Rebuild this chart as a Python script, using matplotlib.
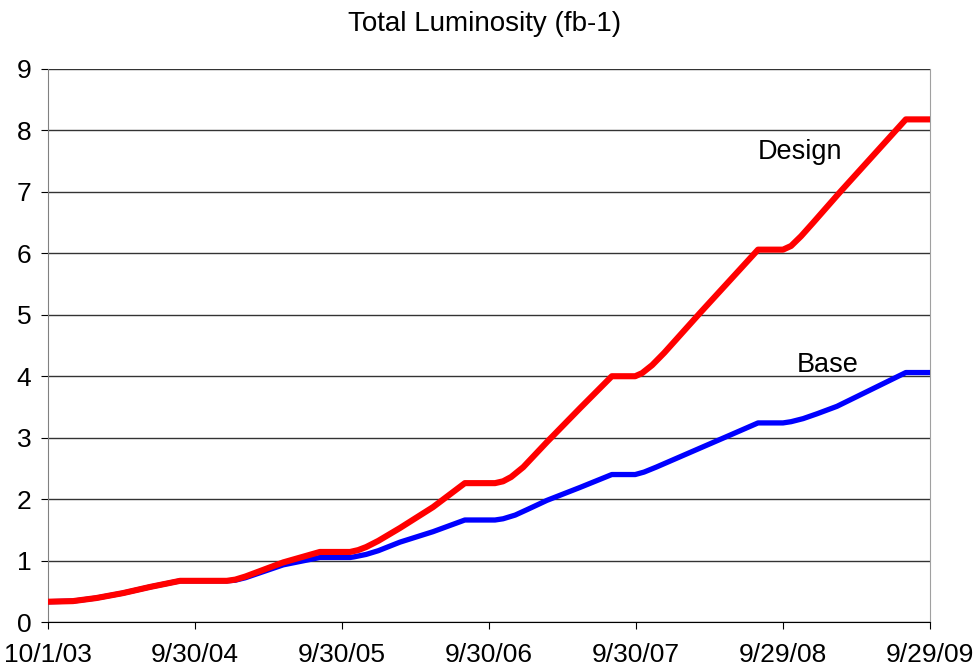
import numpy as np
import pandas as pd
import matplotlib
matplotlib.use('Agg')
import matplotlib.pyplot as plt

# days since 10/1/03 and integrated luminosity (fb-1)
design_days = [0, 62, 120, 186, 253, 328, 444, 465, 490, 584, 675, 750, 770, 790, 820, 874, 956, 1035, 1110,
               1130, 1150, 1180, 1239, 1321, 1400, 1458, 1475, 1500, 1530, 1619, 1763, 1825, 1845, 1870,
               1900, 1967, 2130, 2190]
design_lumi = [0.33, 0.34, 0.39, 0.47, 0.57, 0.67, 0.67, 0.69, 0.74, 0.97, 1.14, 1.14, 1.17, 1.22, 1.32, 1.53,
               1.87, 2.26, 2.26, 2.29, 2.36, 2.52, 2.93, 3.48, 4.00, 4.00, 4.05, 4.18, 4.38, 5.03, 6.06, 6.06,
               6.12, 6.28, 6.50, 7.00, 8.18, 8.18]

base_days = [0, 62, 120, 186, 253, 328, 444, 465, 490, 584, 675, 750, 760, 790, 820, 874, 956, 1035, 1110,
             1130, 1160, 1190, 1239, 1321, 1400, 1458, 1480, 1510, 1619, 1693, 1763, 1825, 1845, 1875, 1910,
             1959, 2130, 2190]
base_lumi = [0.33, 0.34, 0.39, 0.47, 0.57, 0.67, 0.67, 0.68, 0.72, 0.93, 1.05, 1.05, 1.06, 1.10, 1.16, 1.30,
             1.47, 1.66, 1.66, 1.68, 1.74, 1.83, 1.98, 2.19, 2.40, 2.40, 2.44, 2.52, 2.83, 3.04, 3.24, 3.24,
             3.26, 3.31, 3.39, 3.51, 4.06, 4.06]

tick_labels = ['10/1/03', '9/30/04', '9/30/05', '9/30/06', '9/30/07', '9/29/08', '9/29/09']

plt.rcParams['font.family'] = ['Liberation Sans', 'DejaVu Sans']

start = pd.Timestamp('2003-10-01')
design_x = start + pd.to_timedelta(design_days, unit='D')
base_x = start + pd.to_timedelta(base_days, unit='D')
ticks = pd.to_datetime(tick_labels, format='%m/%d/%y')

fig = plt.figure(figsize=(9.75, 6.71), dpi=100)
ax = fig.add_axes([48/975, 49/671, 882/975, 553/671])

ax.plot(base_x, base_lumi, color='#0000ff', lw=3.8, zorder=3)
ax.plot(design_x, design_lumi, color='#ff0000', lw=4.4, zorder=4)

ax.set_xlim(ticks[0], ticks[-1])
ax.set_ylim(0, 9)
ax.set_yticks(range(10))
ax.set_xticks(ticks)
ax.set_xticklabels(tick_labels)
ax.tick_params(axis='both', labelsize=19, direction='out', length=5, color='black')
ax.tick_params(axis='x', pad=10)
ax.tick_params(axis='y', pad=7)

ax.yaxis.grid(True, color='#333333', lw=1)
ax.set_axisbelow(True)
ax.spines['top'].set_visible(False)
ax.spines['bottom'].set_color('black')
ax.spines['left'].set_color('#808080')
ax.spines['right'].set_color('#a0a0a0')

ax.text(start + pd.Timedelta(days=1867), 7.65, 'Design', fontsize=19.5, ha='center', va='center')
ax.text(start + pd.Timedelta(days=1937), 4.18, 'Base', fontsize=19.5, ha='center', va='center')

fig.suptitle('Total Luminosity (fb-1)', fontsize=20, x=485/975, y=1 - 24/671, va='center')

fig.savefig('out.png', dpi=100)
